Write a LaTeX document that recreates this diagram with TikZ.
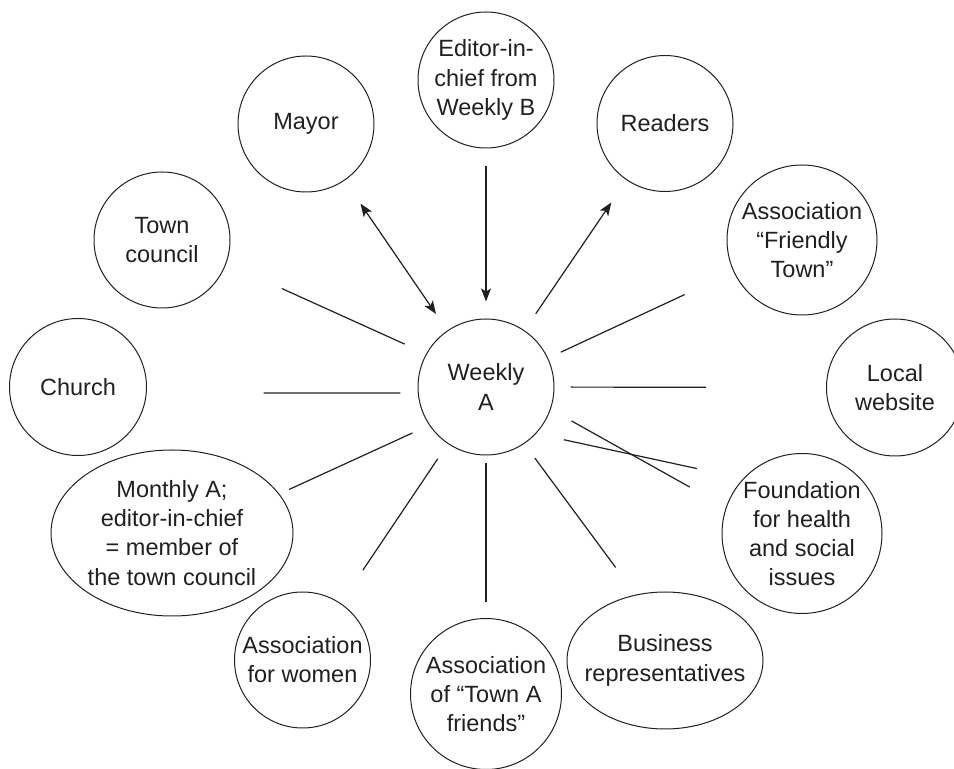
\documentclass[tikz,border=0pt]{standalone}
\usepackage{fontspec}
\setmainfont{Liberation Sans}
\usetikzlibrary{shapes.geometric, arrows.meta}
\definecolor{ink}{HTML}{231F20}
\tikzstyle{actor} = [circle, text centered, align=center, draw=ink, text=ink, line width=0.5pt, inner sep=-8pt]
\tikzstyle{group} = [ellipse, text centered, align=center, draw=ink, text=ink, line width=0.5pt, inner sep=-8pt]
\tikzstyle{link} = [draw=ink, line width=0.6pt]
\tikzstyle{arrow} = [link, -{Stealth[length=6.5pt,width=5pt,inset=1.5pt]}]
\tikzstyle{twoway} = [link, {Stealth[length=6.5pt,width=5pt,inset=1.5pt]}-{Stealth[length=6.5pt,width=5pt,inset=1.5pt]}]

\begin{document}
\begin{tikzpicture}[x=0.5pt, y=-0.5pt, font=\fontsize{11.75}{14.6}\selectfont]
\useasboundingbox (0,0) rectangle (954,769);

\node (weekly) [actor, minimum size=68pt] at (486,387) {Weekly\\A};
\node (mayor) [actor, minimum size=68pt] at (306,124) {Mayor};
\node (editor) [actor, minimum size=68pt] at (486,80) {Editor-in-\\chief from\\Weekly B};
\node (readers) [actor, minimum size=68pt] at (665,123.5) {Readers};
\node (council) [actor, minimum size=68pt] at (162,240) {Town\\council};
\node (friendly) [actor, minimum size=75pt] at (802,240) {Association\\“Friendly\\Town”};
\node (church) [actor, minimum size=68.5pt] at (78,387) {Church};
\node (website) [actor, minimum size=68.5pt] at (895,387.5) {Local\\website};
\node (monthly) [group, minimum width=121pt, minimum height=83pt] at (172,533) {Monthly A;\\editor-in-chief\\= member of\\the town council};
\node (foundation) [actor, minimum size=80pt] at (802,533.5) {Foundation\\for health\\and social\\issues};
\node (women) [actor, minimum size=68pt] at (302.5,660) {Association\\for women};
\node (friends) [actor, minimum size=75.5pt] at (486,694) {Association\\of “Town A\\friends”};
\node (business) [group, minimum width=98pt, minimum height=68.5pt] at (665,660.5) {Business\\representatives};

\draw [twoway, shorten <=10pt, shorten >=14pt] (weekly) -- (mayor);
\draw [arrow, shorten <=9pt, shorten >=8.5pt] (editor) -- (weekly);
\draw [arrow, shorten <=10pt, shorten >=13.5pt] (weekly) -- (readers);
\draw [link, shorten <=7pt, shorten >=27pt] (weekly) -- (friendly);
\draw [link, shorten <=8pt, shorten >=60pt] (weekly) -- (website);
\draw [link, shorten <=11.9pt, shorten >=20.7pt] (weekly.-19.2) -- (foundation.161.6);
\draw [link, shorten <=14.2pt, shorten >=23.7pt] (weekly.-43.7) -- (foundation.137.1);
\draw [link, shorten <=8.9pt, shorten >=16.9pt] (weekly.-56.5) -- (business.114.6);
\draw [link, shorten <=4pt, shorten >=7.75pt] (weekly) -- (friends);
\draw [link, shorten <=9pt, shorten >=19.8pt] (weekly) -- (women);
\draw [link, shorten <=9.2pt, shorten >=5.3pt] (weekly.214.8) -- (monthly.20.5);
\draw [link, shorten <=8.7pt, shorten >=58.4pt] (weekly.185.1) -- (church.-5);
\draw [link, shorten <=11.7pt, shorten >=30.4pt] (weekly.151.5) -- (council.-20.7);

\end{tikzpicture}
\end{document}
